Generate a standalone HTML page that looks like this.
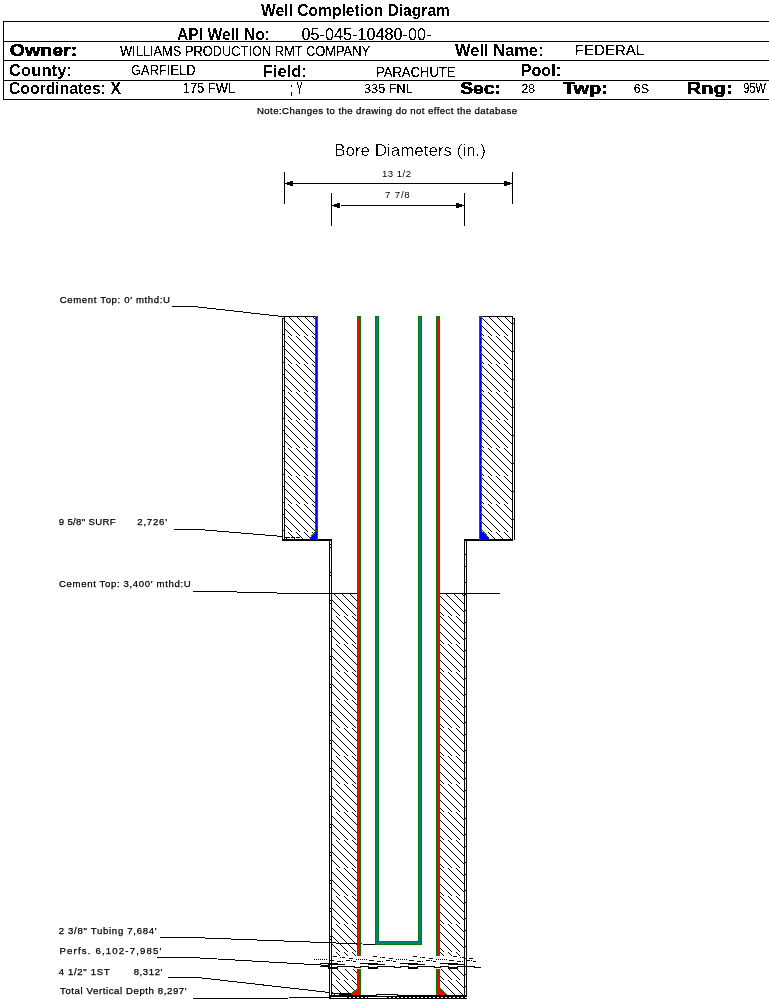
<!DOCTYPE html>
<html><head><meta charset="utf-8"><title>Well Completion Diagram</title>
<style>html,body{margin:0;padding:0;background:#fff;width:769px;height:999px;overflow:hidden;position:relative}</style>
</head><body>
<svg width="769" height="999" viewBox="0 0 769 999" shape-rendering="crispEdges" style="position:absolute;left:0;top:0">
<defs>
<pattern id="hpA" patternUnits="userSpaceOnUse" x="4" y="0" width="8" height="8">
<rect x="0" y="0" width="1" height="1" fill="#000"/><rect x="1" y="1" width="1" height="1" fill="#000"/><rect x="2" y="2" width="1" height="1" fill="#000"/><rect x="3" y="3" width="1" height="1" fill="#000"/><rect x="4" y="4" width="1" height="1" fill="#000"/><rect x="5" y="5" width="1" height="1" fill="#000"/><rect x="6" y="6" width="1" height="1" fill="#000"/><rect x="7" y="7" width="1" height="1" fill="#000"/>
</pattern>
<pattern id="hpB" patternUnits="userSpaceOnUse" x="0" y="0" width="8" height="8">
<rect x="0" y="0" width="1" height="1" fill="#000"/><rect x="1" y="1" width="1" height="1" fill="#000"/><rect x="2" y="2" width="1" height="1" fill="#000"/><rect x="3" y="3" width="1" height="1" fill="#000"/><rect x="4" y="4" width="1" height="1" fill="#000"/><rect x="5" y="5" width="1" height="1" fill="#000"/><rect x="6" y="6" width="1" height="1" fill="#000"/><rect x="7" y="7" width="1" height="1" fill="#000"/>
</pattern>
<filter id="crispB" x="0" y="0" width="769" height="999" filterUnits="userSpaceOnUse"><feComponentTransfer><feFuncA type="discrete" tableValues="0 1"/></feComponentTransfer></filter>
<filter id="crispR" x="0" y="0" width="769" height="999" filterUnits="userSpaceOnUse"><feComponentTransfer><feFuncA type="discrete" tableValues="0 0 1 1 1"/></feComponentTransfer></filter>
<filter id="crispT" x="0" y="0" width="769" height="999" filterUnits="userSpaceOnUse"><feComponentTransfer><feFuncA type="discrete" tableValues="0 0 1"/></feComponentTransfer></filter>
<filter id="crispS" x="0" y="0" width="769" height="999" filterUnits="userSpaceOnUse"><feComponentTransfer><feFuncA type="identity"/></feComponentTransfer></filter>
</defs>
<rect x="0" y="0" width="769" height="999" fill="#fff"/>
<rect x="3" y="21" width="766" height="1" fill="#000"/>
<rect x="3" y="41" width="766" height="1" fill="#000"/>
<rect x="3" y="60" width="766" height="1" fill="#000"/>
<rect x="3" y="80" width="766" height="1" fill="#000"/>
<rect x="3" y="99" width="766" height="1" fill="#000"/>
<rect x="3" y="21" width="1" height="79" fill="#000"/>
<rect x="284" y="172" width="1" height="32" fill="#000"/>
<rect x="512" y="172" width="1" height="32" fill="#000"/>
<rect x="284" y="183" width="229" height="1" fill="#000"/>
<rect x="287" y="182" width="3" height="3" fill="#000"/>
<rect x="290" y="181" width="3" height="5" fill="#000"/>
<rect x="504" y="181" width="3" height="5" fill="#000"/>
<rect x="507" y="182" width="3" height="3" fill="#000"/>
<rect x="331" y="193" width="1" height="33" fill="#000"/>
<rect x="464" y="193" width="1" height="33" fill="#000"/>
<rect x="331" y="205" width="134" height="1" fill="#000"/>
<rect x="334" y="204" width="3" height="3" fill="#000"/>
<rect x="337" y="203" width="3" height="5" fill="#000"/>
<rect x="340" y="205" width="1" height="1" fill="#fff"/>
<rect x="456" y="203" width="3" height="5" fill="#000"/>
<rect x="459" y="204" width="3" height="3" fill="#000"/>
<rect x="285" y="317" width="30" height="19" fill="url(#hpA)"/>
<rect x="285" y="336" width="30" height="28" fill="url(#hpB)"/>
<rect x="285" y="364" width="30" height="28" fill="url(#hpA)"/>
<rect x="285" y="392" width="30" height="28" fill="url(#hpB)"/>
<rect x="285" y="420" width="30" height="28" fill="url(#hpA)"/>
<rect x="285" y="448" width="30" height="28" fill="url(#hpB)"/>
<rect x="285" y="476" width="30" height="28" fill="url(#hpA)"/>
<rect x="285" y="504" width="30" height="28" fill="url(#hpB)"/>
<rect x="285" y="532" width="30" height="7" fill="url(#hpA)"/>
<rect x="482" y="317" width="30" height="19" fill="url(#hpA)"/>
<rect x="482" y="336" width="30" height="28" fill="url(#hpB)"/>
<rect x="482" y="364" width="30" height="28" fill="url(#hpA)"/>
<rect x="482" y="392" width="30" height="28" fill="url(#hpB)"/>
<rect x="482" y="420" width="30" height="28" fill="url(#hpA)"/>
<rect x="482" y="448" width="30" height="28" fill="url(#hpB)"/>
<rect x="482" y="476" width="30" height="28" fill="url(#hpA)"/>
<rect x="482" y="504" width="30" height="28" fill="url(#hpB)"/>
<rect x="482" y="532" width="30" height="7" fill="url(#hpA)"/>
<rect x="332" y="594" width="25" height="22" fill="url(#hpA)"/>
<rect x="332" y="616" width="25" height="28" fill="url(#hpB)"/>
<rect x="332" y="644" width="25" height="28" fill="url(#hpA)"/>
<rect x="332" y="672" width="25" height="28" fill="url(#hpB)"/>
<rect x="332" y="700" width="25" height="28" fill="url(#hpA)"/>
<rect x="332" y="728" width="25" height="28" fill="url(#hpB)"/>
<rect x="332" y="756" width="25" height="28" fill="url(#hpA)"/>
<rect x="332" y="784" width="25" height="28" fill="url(#hpB)"/>
<rect x="332" y="812" width="25" height="28" fill="url(#hpA)"/>
<rect x="332" y="840" width="25" height="28" fill="url(#hpB)"/>
<rect x="332" y="868" width="25" height="28" fill="url(#hpA)"/>
<rect x="332" y="896" width="25" height="28" fill="url(#hpB)"/>
<rect x="332" y="924" width="25" height="28" fill="url(#hpA)"/>
<rect x="332" y="952" width="25" height="4" fill="url(#hpB)"/>
<rect x="440" y="594" width="24" height="22" fill="url(#hpA)"/>
<rect x="440" y="616" width="24" height="28" fill="url(#hpB)"/>
<rect x="440" y="644" width="24" height="28" fill="url(#hpA)"/>
<rect x="440" y="672" width="24" height="28" fill="url(#hpB)"/>
<rect x="440" y="700" width="24" height="28" fill="url(#hpA)"/>
<rect x="440" y="728" width="24" height="28" fill="url(#hpB)"/>
<rect x="440" y="756" width="24" height="28" fill="url(#hpA)"/>
<rect x="440" y="784" width="24" height="28" fill="url(#hpB)"/>
<rect x="440" y="812" width="24" height="28" fill="url(#hpA)"/>
<rect x="440" y="840" width="24" height="28" fill="url(#hpB)"/>
<rect x="440" y="868" width="24" height="28" fill="url(#hpA)"/>
<rect x="440" y="896" width="24" height="28" fill="url(#hpB)"/>
<rect x="440" y="924" width="24" height="28" fill="url(#hpA)"/>
<rect x="440" y="952" width="24" height="4" fill="url(#hpB)"/>
<rect x="332" y="969" width="25" height="11" fill="url(#hpB)"/>
<rect x="332" y="980" width="25" height="15" fill="url(#hpA)"/>
<rect x="440" y="969" width="24" height="11" fill="url(#hpB)"/>
<rect x="440" y="980" width="24" height="15" fill="url(#hpA)"/>
<rect x="280" y="316" width="38" height="1" fill="#000"/>
<rect x="284" y="316" width="1" height="224" fill="#000"/>
<rect x="282" y="318" width="1" height="222" fill="#000"/>
<rect x="282" y="318" width="3" height="1" fill="#000"/>
<rect x="479" y="316" width="34" height="1" fill="#000"/>
<rect x="512" y="316" width="1" height="224" fill="#000"/>
<rect x="514" y="318" width="1" height="222" fill="#000"/>
<rect x="512" y="318" width="3" height="1" fill="#000"/>
<rect x="282" y="334" width="3" height="1" fill="#000"/>
<rect x="282" y="362" width="3" height="1" fill="#000"/>
<rect x="282" y="390" width="3" height="1" fill="#000"/>
<rect x="282" y="418" width="3" height="1" fill="#000"/>
<rect x="282" y="446" width="3" height="1" fill="#000"/>
<rect x="282" y="474" width="3" height="1" fill="#000"/>
<rect x="282" y="502" width="3" height="1" fill="#000"/>
<rect x="282" y="530" width="3" height="1" fill="#000"/>
<rect x="282" y="346" width="3" height="1" fill="#000"/>
<rect x="282" y="374" width="3" height="1" fill="#000"/>
<rect x="282" y="402" width="3" height="1" fill="#000"/>
<rect x="282" y="430" width="3" height="1" fill="#000"/>
<rect x="282" y="458" width="3" height="1" fill="#000"/>
<rect x="282" y="486" width="3" height="1" fill="#000"/>
<rect x="282" y="514" width="3" height="1" fill="#000"/>
<rect x="512" y="323" width="3" height="1" fill="#000"/>
<rect x="512" y="351" width="3" height="1" fill="#000"/>
<rect x="512" y="379" width="3" height="1" fill="#000"/>
<rect x="512" y="407" width="3" height="1" fill="#000"/>
<rect x="512" y="435" width="3" height="1" fill="#000"/>
<rect x="512" y="463" width="3" height="1" fill="#000"/>
<rect x="512" y="491" width="3" height="1" fill="#000"/>
<rect x="512" y="519" width="3" height="1" fill="#000"/>
<rect x="286" y="537" width="4" height="1" fill="#000"/>
<rect x="291" y="537" width="4" height="1" fill="#000"/>
<rect x="296" y="537" width="4" height="1" fill="#000"/>
<rect x="282" y="539" width="50" height="2" fill="#000"/>
<rect x="464" y="539" width="49" height="2" fill="#000"/>
<rect x="329" y="539" width="1" height="460" fill="#000"/>
<rect x="331" y="539" width="1" height="460" fill="#000"/>
<rect x="464" y="539" width="1" height="460" fill="#000"/>
<rect x="466" y="539" width="1" height="460" fill="#000"/>
<rect x="329" y="544" width="3" height="1" fill="#000"/>
<rect x="329" y="572" width="3" height="1" fill="#000"/>
<rect x="329" y="600" width="3" height="1" fill="#000"/>
<rect x="329" y="628" width="3" height="1" fill="#000"/>
<rect x="329" y="656" width="3" height="1" fill="#000"/>
<rect x="329" y="684" width="3" height="1" fill="#000"/>
<rect x="329" y="712" width="3" height="1" fill="#000"/>
<rect x="329" y="740" width="3" height="1" fill="#000"/>
<rect x="329" y="768" width="3" height="1" fill="#000"/>
<rect x="329" y="796" width="3" height="1" fill="#000"/>
<rect x="329" y="824" width="3" height="1" fill="#000"/>
<rect x="329" y="852" width="3" height="1" fill="#000"/>
<rect x="329" y="880" width="3" height="1" fill="#000"/>
<rect x="329" y="908" width="3" height="1" fill="#000"/>
<rect x="329" y="936" width="3" height="1" fill="#000"/>
<rect x="329" y="964" width="3" height="1" fill="#000"/>
<rect x="329" y="547" width="3" height="1" fill="#000"/>
<rect x="329" y="575" width="3" height="1" fill="#000"/>
<rect x="329" y="603" width="3" height="1" fill="#000"/>
<rect x="329" y="631" width="3" height="1" fill="#000"/>
<rect x="329" y="659" width="3" height="1" fill="#000"/>
<rect x="329" y="687" width="3" height="1" fill="#000"/>
<rect x="329" y="715" width="3" height="1" fill="#000"/>
<rect x="329" y="743" width="3" height="1" fill="#000"/>
<rect x="329" y="771" width="3" height="1" fill="#000"/>
<rect x="329" y="799" width="3" height="1" fill="#000"/>
<rect x="329" y="827" width="3" height="1" fill="#000"/>
<rect x="329" y="855" width="3" height="1" fill="#000"/>
<rect x="329" y="883" width="3" height="1" fill="#000"/>
<rect x="329" y="911" width="3" height="1" fill="#000"/>
<rect x="329" y="939" width="3" height="1" fill="#000"/>
<rect x="329" y="967" width="3" height="1" fill="#000"/>
<rect x="464" y="554" width="3" height="1" fill="#000"/>
<rect x="464" y="582" width="3" height="1" fill="#000"/>
<rect x="464" y="610" width="3" height="1" fill="#000"/>
<rect x="464" y="638" width="3" height="1" fill="#000"/>
<rect x="464" y="666" width="3" height="1" fill="#000"/>
<rect x="464" y="694" width="3" height="1" fill="#000"/>
<rect x="464" y="722" width="3" height="1" fill="#000"/>
<rect x="464" y="750" width="3" height="1" fill="#000"/>
<rect x="464" y="778" width="3" height="1" fill="#000"/>
<rect x="464" y="806" width="3" height="1" fill="#000"/>
<rect x="464" y="834" width="3" height="1" fill="#000"/>
<rect x="464" y="862" width="3" height="1" fill="#000"/>
<rect x="464" y="890" width="3" height="1" fill="#000"/>
<rect x="464" y="918" width="3" height="1" fill="#000"/>
<rect x="464" y="946" width="3" height="1" fill="#000"/>
<rect x="464" y="974" width="3" height="1" fill="#000"/>
<rect x="464" y="566" width="3" height="1" fill="#000"/>
<rect x="464" y="594" width="3" height="1" fill="#000"/>
<rect x="464" y="622" width="3" height="1" fill="#000"/>
<rect x="464" y="650" width="3" height="1" fill="#000"/>
<rect x="464" y="678" width="3" height="1" fill="#000"/>
<rect x="464" y="706" width="3" height="1" fill="#000"/>
<rect x="464" y="734" width="3" height="1" fill="#000"/>
<rect x="464" y="762" width="3" height="1" fill="#000"/>
<rect x="464" y="790" width="3" height="1" fill="#000"/>
<rect x="464" y="818" width="3" height="1" fill="#000"/>
<rect x="464" y="846" width="3" height="1" fill="#000"/>
<rect x="464" y="874" width="3" height="1" fill="#000"/>
<rect x="464" y="902" width="3" height="1" fill="#000"/>
<rect x="464" y="930" width="3" height="1" fill="#000"/>
<rect x="464" y="958" width="3" height="1" fill="#000"/>
<rect x="464" y="986" width="3" height="1" fill="#000"/>
<rect x="328" y="593" width="30" height="1" fill="#000"/>
<rect x="439" y="593" width="28" height="1" fill="#000"/>
<rect x="466" y="593" width="34" height="1" fill="#000"/>
<polyline points="159.5,937.5 191.5,937.5 375.5,944.5" fill="none" stroke="#000" stroke-width="1"/>
<rect x="315" y="316" width="3" height="224" fill="#008000"/>
<rect x="316" y="317" width="1" height="222" fill="#0000FF"/>
<rect x="479" y="316" width="3" height="224" fill="#008000"/>
<rect x="480" y="317" width="1" height="222" fill="#0000FF"/>
<rect x="357" y="316" width="4" height="640" fill="#008000"/>
<rect x="358" y="317" width="2" height="638" fill="#FF0000"/>
<rect x="436" y="316" width="4" height="640" fill="#008000"/>
<rect x="437" y="317" width="2" height="638" fill="#FF0000"/>
<rect x="357" y="969" width="4" height="27" fill="#008000"/>
<rect x="358" y="970" width="2" height="25" fill="#FF0000"/>
<rect x="436" y="969" width="4" height="27" fill="#008000"/>
<rect x="437" y="970" width="2" height="25" fill="#FF0000"/>
<rect x="375" y="316" width="4" height="629" fill="#008000"/>
<rect x="376" y="317" width="2" height="627" fill="#008080"/>
<rect x="418" y="316" width="4" height="629" fill="#008000"/>
<rect x="419" y="317" width="2" height="627" fill="#008080"/>
<rect x="375" y="941" width="47" height="4" fill="#008000"/>
<rect x="376" y="942" width="45" height="2" fill="#008080"/>
<polygon points="309,539.5 316,531 316,539.5" fill="#0000FF"/>
<polyline points="309.5,538.5 316.5,530.5" fill="none" stroke="#008000" stroke-width="1"/>
<polygon points="490,539.5 481,530 481,539.5" fill="#0000FF"/>
<polyline points="481.5,529.5 489.5,538.5" fill="none" stroke="#008000" stroke-width="1"/>
<polygon points="350,995.5 358,988 358,995.5" fill="#FF0000"/>
<polyline points="350.5,994.5 357.5,988.5" fill="none" stroke="#008000" stroke-width="1"/>
<polygon points="447,995.5 439,988 439,995.5" fill="#FF0000"/>
<polyline points="439.5,987.5 446.5,994.5" fill="none" stroke="#008000" stroke-width="1"/>
<rect x="333" y="956" width="4" height="1" fill="#000"/>
<rect x="340" y="957" width="1" height="1" fill="#000"/>
<rect x="342" y="957" width="3" height="1" fill="#000"/>
<rect x="349" y="958" width="4" height="1" fill="#000"/>
<rect x="316" y="959" width="1" height="1" fill="#000"/>
<rect x="318" y="959" width="1" height="1" fill="#000"/>
<rect x="320" y="959" width="1" height="1" fill="#000"/>
<rect x="322" y="959" width="1" height="1" fill="#000"/>
<rect x="324" y="959" width="1" height="1" fill="#000"/>
<rect x="326" y="959" width="1" height="1" fill="#000"/>
<rect x="329" y="960" width="4" height="1" fill="#000"/>
<rect x="333" y="960" width="1" height="1" fill="#000"/>
<rect x="346" y="960" width="4" height="1" fill="#000"/>
<rect x="351" y="960" width="1" height="1" fill="#000"/>
<rect x="337" y="961" width="4" height="1" fill="#000"/>
<rect x="342" y="961" width="1" height="1" fill="#000"/>
<rect x="353" y="961" width="3" height="1" fill="#000"/>
<rect x="320" y="963" width="9" height="1" fill="#000"/>
<rect x="328" y="963" width="10" height="2" fill="#000"/>
<rect x="336" y="964" width="9" height="1" fill="#000"/>
<rect x="320" y="966" width="9" height="1" fill="#000"/>
<rect x="337" y="966" width="18" height="1" fill="#000"/>
<rect x="328" y="967" width="10" height="2" fill="#000"/>
<rect x="354" y="967" width="7" height="1" fill="#000"/>
<rect x="373" y="956" width="4" height="1" fill="#000"/>
<rect x="380" y="957" width="1" height="1" fill="#000"/>
<rect x="382" y="957" width="3" height="1" fill="#000"/>
<rect x="389" y="958" width="4" height="1" fill="#000"/>
<rect x="356" y="959" width="1" height="1" fill="#000"/>
<rect x="358" y="959" width="1" height="1" fill="#000"/>
<rect x="360" y="959" width="1" height="1" fill="#000"/>
<rect x="362" y="959" width="1" height="1" fill="#000"/>
<rect x="364" y="959" width="1" height="1" fill="#000"/>
<rect x="366" y="959" width="1" height="1" fill="#000"/>
<rect x="369" y="960" width="4" height="1" fill="#000"/>
<rect x="373" y="960" width="1" height="1" fill="#000"/>
<rect x="386" y="960" width="4" height="1" fill="#000"/>
<rect x="391" y="960" width="1" height="1" fill="#000"/>
<rect x="377" y="961" width="4" height="1" fill="#000"/>
<rect x="382" y="961" width="1" height="1" fill="#000"/>
<rect x="393" y="961" width="3" height="1" fill="#000"/>
<rect x="360" y="963" width="9" height="1" fill="#000"/>
<rect x="368" y="963" width="10" height="2" fill="#000"/>
<rect x="376" y="964" width="9" height="1" fill="#000"/>
<rect x="360" y="966" width="9" height="1" fill="#000"/>
<rect x="377" y="966" width="18" height="1" fill="#000"/>
<rect x="368" y="967" width="10" height="2" fill="#000"/>
<rect x="394" y="967" width="7" height="1" fill="#000"/>
<rect x="413" y="956" width="4" height="1" fill="#000"/>
<rect x="420" y="957" width="1" height="1" fill="#000"/>
<rect x="422" y="957" width="3" height="1" fill="#000"/>
<rect x="429" y="958" width="4" height="1" fill="#000"/>
<rect x="396" y="959" width="1" height="1" fill="#000"/>
<rect x="398" y="959" width="1" height="1" fill="#000"/>
<rect x="400" y="959" width="1" height="1" fill="#000"/>
<rect x="402" y="959" width="1" height="1" fill="#000"/>
<rect x="404" y="959" width="1" height="1" fill="#000"/>
<rect x="406" y="959" width="1" height="1" fill="#000"/>
<rect x="409" y="960" width="4" height="1" fill="#000"/>
<rect x="413" y="960" width="1" height="1" fill="#000"/>
<rect x="426" y="960" width="4" height="1" fill="#000"/>
<rect x="431" y="960" width="1" height="1" fill="#000"/>
<rect x="417" y="961" width="4" height="1" fill="#000"/>
<rect x="422" y="961" width="1" height="1" fill="#000"/>
<rect x="433" y="961" width="3" height="1" fill="#000"/>
<rect x="400" y="963" width="9" height="1" fill="#000"/>
<rect x="408" y="963" width="10" height="2" fill="#000"/>
<rect x="416" y="964" width="9" height="1" fill="#000"/>
<rect x="400" y="966" width="9" height="1" fill="#000"/>
<rect x="417" y="966" width="18" height="1" fill="#000"/>
<rect x="408" y="967" width="10" height="2" fill="#000"/>
<rect x="434" y="967" width="7" height="1" fill="#000"/>
<rect x="453" y="956" width="4" height="1" fill="#000"/>
<rect x="460" y="957" width="1" height="1" fill="#000"/>
<rect x="462" y="957" width="3" height="1" fill="#000"/>
<rect x="469" y="958" width="4" height="1" fill="#000"/>
<rect x="436" y="959" width="1" height="1" fill="#000"/>
<rect x="438" y="959" width="1" height="1" fill="#000"/>
<rect x="440" y="959" width="1" height="1" fill="#000"/>
<rect x="442" y="959" width="1" height="1" fill="#000"/>
<rect x="444" y="959" width="1" height="1" fill="#000"/>
<rect x="446" y="959" width="1" height="1" fill="#000"/>
<rect x="449" y="960" width="4" height="1" fill="#000"/>
<rect x="453" y="960" width="1" height="1" fill="#000"/>
<rect x="466" y="960" width="4" height="1" fill="#000"/>
<rect x="471" y="960" width="1" height="1" fill="#000"/>
<rect x="457" y="961" width="4" height="1" fill="#000"/>
<rect x="462" y="961" width="1" height="1" fill="#000"/>
<rect x="473" y="961" width="3" height="1" fill="#000"/>
<rect x="440" y="963" width="9" height="1" fill="#000"/>
<rect x="448" y="963" width="10" height="2" fill="#000"/>
<rect x="456" y="964" width="9" height="1" fill="#000"/>
<rect x="440" y="966" width="9" height="1" fill="#000"/>
<rect x="457" y="966" width="18" height="1" fill="#000"/>
<rect x="448" y="967" width="10" height="2" fill="#000"/>
<rect x="474" y="967" width="7" height="1" fill="#000"/>
<rect x="314" y="959" width="1" height="1" fill="#000"/>
<rect x="329" y="995" width="138" height="4" fill="#000"/>
<rect x="349" y="997" width="2" height="1" fill="#fff"/>
<rect x="353" y="997" width="2" height="1" fill="#fff"/>
<rect x="357" y="997" width="2" height="1" fill="#fff"/>
<rect x="361" y="997" width="2" height="1" fill="#fff"/>
<rect x="365" y="997" width="2" height="1" fill="#fff"/>
<rect x="369" y="997" width="2" height="1" fill="#fff"/>
<rect x="373" y="997" width="2" height="1" fill="#fff"/>
<rect x="377" y="997" width="2" height="1" fill="#fff"/>
<rect x="381" y="997" width="2" height="1" fill="#fff"/>
<rect x="385" y="997" width="2" height="1" fill="#fff"/>
<rect x="389" y="997" width="2" height="1" fill="#fff"/>
<rect x="393" y="997" width="2" height="1" fill="#fff"/>
<rect x="397" y="997" width="2" height="1" fill="#fff"/>
<rect x="401" y="997" width="2" height="1" fill="#fff"/>
<rect x="405" y="997" width="2" height="1" fill="#fff"/>
<rect x="409" y="997" width="2" height="1" fill="#fff"/>
<rect x="413" y="997" width="2" height="1" fill="#fff"/>
<rect x="417" y="997" width="2" height="1" fill="#fff"/>
<rect x="421" y="997" width="2" height="1" fill="#fff"/>
<rect x="425" y="997" width="2" height="1" fill="#fff"/>
<rect x="429" y="997" width="2" height="1" fill="#fff"/>
<rect x="433" y="997" width="2" height="1" fill="#fff"/>
<rect x="437" y="997" width="2" height="1" fill="#fff"/>
<rect x="441" y="997" width="2" height="1" fill="#fff"/>
<rect x="445" y="997" width="2" height="1" fill="#fff"/>
<rect x="449" y="997" width="2" height="1" fill="#fff"/>
<rect x="453" y="997" width="2" height="1" fill="#fff"/>
<rect x="457" y="997" width="2" height="1" fill="#fff"/>
<rect x="461" y="997" width="2" height="1" fill="#fff"/>
<rect x="465" y="997" width="2" height="1" fill="#fff"/>
<rect x="331" y="997" width="16" height="1" fill="#fff"/>
<rect x="368" y="997" width="19" height="1" fill="#fff"/>
<rect x="376" y="994" width="22" height="1" fill="#000"/>
<rect x="377" y="995" width="20" height="1" fill="#fff"/>
<rect x="332" y="993" width="7" height="1" fill="#000"/>
<rect x="339" y="993" width="12" height="2" fill="#000"/>
<rect x="291" y="85" width="1" height="2" fill="#000"/>
<rect x="291" y="92" width="1" height="4" fill="#000"/>
<rect x="297" y="82" width="1" height="3" fill="#000"/>
<rect x="298" y="85" width="1" height="3" fill="#000"/>
<rect x="301" y="82" width="1" height="3" fill="#000"/>
<rect x="300" y="85" width="1" height="3" fill="#000"/>
<rect x="299" y="88" width="1" height="6" fill="#000"/>
<polyline points="171.5,306.5 193.5,306.5 282.5,316.5" fill="none" stroke="#000" stroke-width="1"/>
<polyline points="173.5,529.5 198.5,529.5 282.5,536.5" fill="none" stroke="#000" stroke-width="1"/>
<rect x="193" y="591" width="44" height="1" fill="#000"/>
<rect x="237" y="592" width="40" height="1" fill="#000"/>
<rect x="277" y="593" width="53" height="1" fill="#000"/>
<polyline points="156.5,957.5 191.5,957.5 329.5,965.5" fill="none" stroke="#000" stroke-width="1"/>
<polyline points="167.5,977.5 197.5,977.5 329.5,992.5" fill="none" stroke="#000" stroke-width="1"/>
<polyline points="192.5,998.5 248.5,998.5 329.5,997.5" fill="none" stroke="#000" stroke-width="1"/>
<g font-family='"Liberation Sans", sans-serif' fill="#000" font-weight="bold" filter="url(#crispB)">
<text x="261.0" y="15.5" font-size="16" textLength="189.0" lengthAdjust="spacingAndGlyphs">Well Completion Diagram</text>
<text x="177.0" y="39.5" font-size="16.5" textLength="93.0" lengthAdjust="spacingAndGlyphs">API Well No:</text>
<text x="9.7" y="55.6" font-size="16" textLength="67.5" lengthAdjust="spacingAndGlyphs" stroke="#000" stroke-width="0.5">Owner:</text>
<text x="455.0" y="55.5" font-size="16" textLength="88.5" lengthAdjust="spacingAndGlyphs">Well Name:</text>
<text x="9.0" y="76" font-size="16" textLength="63.0" lengthAdjust="spacingAndGlyphs">County:</text>
<text x="262.75" y="76.8" font-size="16" textLength="44.25" lengthAdjust="spacingAndGlyphs">Field:</text>
<text x="520.75" y="76" font-size="16" textLength="40.25" lengthAdjust="spacingAndGlyphs">Pool:</text>
<text x="9.0" y="94" font-size="16" textLength="112.0" lengthAdjust="spacingAndGlyphs">Coordinates: X</text>
<text x="460.25" y="93.5" font-size="16" textLength="40.75" lengthAdjust="spacingAndGlyphs" stroke="#000" stroke-width="0.5">Sec:</text>
<text x="562.75" y="94.2" font-size="16" textLength="45.25" lengthAdjust="spacingAndGlyphs" stroke="#000" stroke-width="0.5">Twp:</text>
<text x="686.8" y="94" font-size="16" textLength="45.8" lengthAdjust="spacingAndGlyphs" stroke="#000" stroke-width="0.5">Rng:</text>
</g>
<g font-family='"Liberation Sans", sans-serif' fill="#000" filter="url(#crispT)">
<text x="334.2" y="155.8" font-size="16.7" textLength="151.8" lengthAdjust="spacingAndGlyphs">Bore Diameters (in.)</text>
</g>
<g font-family='"Liberation Sans", sans-serif' fill="#000" filter="url(#crispR)">
<text x="301.5" y="39.5" font-size="16" textLength="130.0" lengthAdjust="spacingAndGlyphs">05-045-10480-00-</text>
<text x="120" y="55.5" font-size="14.5" textLength="250" lengthAdjust="spacingAndGlyphs">WILLIAMS PRODUCTION RMT COMPANY</text>
<text x="574.75" y="55.2" font-size="14.5" textLength="69.5" lengthAdjust="spacingAndGlyphs">FEDERAL</text>
<text x="131.0" y="74.9" font-size="14.5" textLength="64.5" lengthAdjust="spacingAndGlyphs">GARFIELD</text>
<text x="376.0" y="76.8" font-size="14.5" textLength="79.5" lengthAdjust="spacingAndGlyphs">PARACHUTE</text>
<text x="182.75" y="93" font-size="13.8" textLength="52.25" lengthAdjust="spacingAndGlyphs">175 FWL</text>
<text x="364.0" y="92.7" font-size="13" textLength="48.75" lengthAdjust="spacingAndGlyphs">335 FNL</text>
<text x="521.5" y="93.2" font-size="13.5" textLength="13.5" lengthAdjust="spacingAndGlyphs">28</text>
<text x="633.75" y="93.3" font-size="13" textLength="15.25" lengthAdjust="spacingAndGlyphs">6S</text>
<text x="743.2" y="93.2" font-size="14" textLength="22.6" lengthAdjust="spacingAndGlyphs">95W</text>
</g>
<g font-family='"Liberation Sans", sans-serif' fill="#000" stroke="#000" stroke-width="0.25" filter="url(#crispS)">
<text x="257.0" y="114.3" font-size="9.6" textLength="260.0" lengthAdjust="spacing">Note:Changes to the drawing do not effect the database</text>
<text x="382.0" y="177.3" font-size="9.6" textLength="29.1" lengthAdjust="spacing" stroke-width="0">13 1/2</text>
<text x="385.1" y="198.1" font-size="9.6" textLength="24.6" lengthAdjust="spacing" stroke-width="0">7 7/8</text>
<text x="59.7" y="303" font-size="9.6" textLength="110.3" lengthAdjust="spacing">Cement Top: 0' mthd:U</text>
<text x="58.7" y="524.8" font-size="9.6" textLength="57.0" lengthAdjust="spacing">9 5/8&quot; SURF</text>
<text x="137.3" y="524.8" font-size="9.6" textLength="29.7" lengthAdjust="spacing">2,726'</text>
<text x="59.0" y="587.2" font-size="9.6" textLength="131.7" lengthAdjust="spacing">Cement Top: 3,400' mthd:U</text>
<text x="58.7" y="934.3" font-size="9.6" textLength="97.9" lengthAdjust="spacing">2 3/8&quot; Tubing 7,684'</text>
<text x="59.5" y="954.3" font-size="9.6" textLength="101.9" lengthAdjust="spacing">Perfs. 6,102-7,985'</text>
<text x="58.7" y="975.1" font-size="9.6" textLength="50.9" lengthAdjust="spacing">4 1/2&quot; 1ST</text>
<text x="133.7" y="975.1" font-size="9.6" textLength="28.7" lengthAdjust="spacing">8,312'</text>
<text x="60.0" y="993.8" font-size="9.6" textLength="126.6" lengthAdjust="spacing">Total Vertical Depth 8,297'</text>
</g>
</svg>
</body></html>
